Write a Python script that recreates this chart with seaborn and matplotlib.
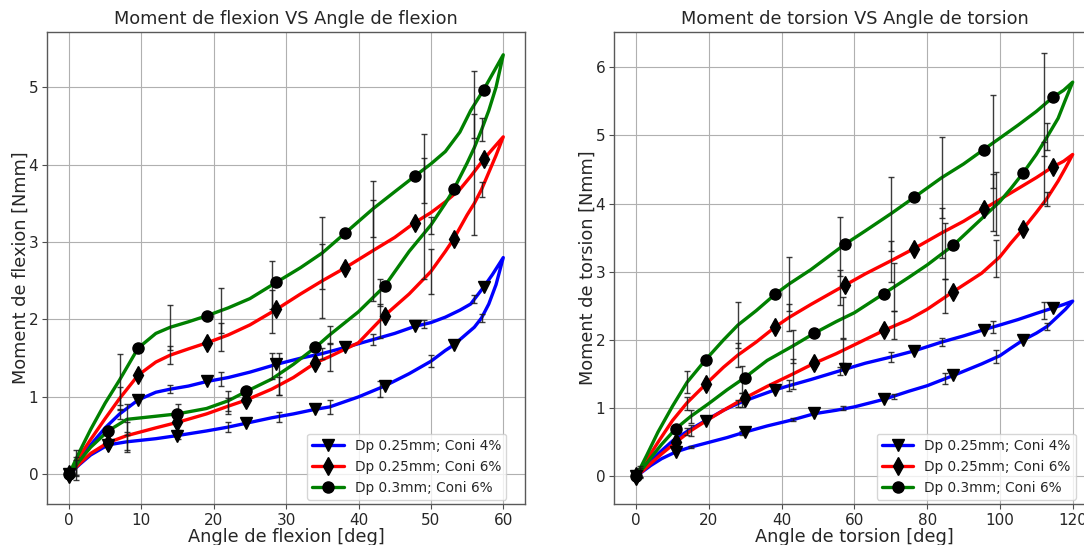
import numpy as np
import matplotlib
matplotlib.use("Agg")
import matplotlib.pyplot as plt
from matplotlib.lines import Line2D
import seaborn as sns

# ---------------- Flexion data ----------------
FX_UP = [0, 1.5, 3, 5, 7, 9.55, 12, 14, 16.5, 19.1, 22, 25, 28.65, 32, 35, 38.2,
         42, 45, 47.75, 50, 52, 54, 55.5, 57.3, 58.5, 60]
FX_BLUE_UP = [0, 0.2, 0.38, 0.6, 0.78, 0.96, 1.06, 1.1, 1.14, 1.2, 1.25, 1.32, 1.42, 1.5, 1.56, 1.64,
              1.74, 1.82, 1.91, 1.96, 2.03, 2.12, 2.2, 2.42, 2.58, 2.8]
FX_RED_UP = [0, 0.24, 0.45, 0.72, 0.98, 1.28, 1.45, 1.54, 1.62, 1.7, 1.8, 1.93, 2.13, 2.33, 2.5, 2.67,
             2.89, 3.06, 3.25, 3.38, 3.52, 3.68, 3.85, 4.07, 4.2, 4.36]
FX_GREEN_UP = [0, 0.3, 0.58, 0.92, 1.22, 1.63, 1.82, 1.9, 1.97, 2.05, 2.15, 2.27, 2.48, 2.67, 2.86, 3.12,
               3.43, 3.65, 3.85, 4.01, 4.17, 4.42, 4.7, 4.97, 5.17, 5.42]

FX_LO = [60, 59, 58, 57, 56, 55, 53.15, 52, 50, 47, 43.6, 40, 36, 34.05, 31, 28, 24.5, 22, 19,
         14.95, 12, 10, 8, 5.4, 3, 1.5, 0]
FX_BLUE_LO = [2.8, 2.45, 2.2, 2.02, 1.9, 1.82, 1.67, 1.6, 1.46, 1.3, 1.14, 1.0, 0.87, 0.84, 0.78, 0.73,
              0.66, 0.61, 0.56, 0.5, 0.46, 0.44, 0.42, 0.38, 0.25, 0.13, 0]
FX_RED_LO = [4.36, 4.12, 3.9, 3.68, 3.5, 3.35, 3.04, 2.88, 2.62, 2.33, 2.05, 1.7, 1.52, 1.44, 1.25, 1.1,
             0.96, 0.88, 0.78, 0.67, 0.6, 0.55, 0.5, 0.41, 0.27, 0.14, 0]
FX_GREEN_LO = [5.42, 5.0, 4.7, 4.45, 4.22, 4.02, 3.68, 3.5, 3.22, 2.88, 2.43, 2.1, 1.8, 1.64, 1.42, 1.23,
               1.07, 0.95, 0.85, 0.78, 0.75, 0.73, 0.71, 0.56, 0.35, 0.18, 0]

FX_MK_UP = [0, 9.55, 19.1, 28.65, 38.2, 47.75, 57.3]
FX_MK_LO = [53.15, 43.6, 34.05, 24.5, 14.95, 5.4]
FX_BLUE_MK = [0, 0.96, 1.2, 1.42, 1.64, 1.91, 2.42, 1.67, 1.14, 0.84, 0.66, 0.5, 0.38]
FX_RED_MK = [0, 1.28, 1.7, 2.13, 2.67, 3.25, 4.07, 3.04, 2.05, 1.44, 0.96, 0.67, 0.41]
FX_GREEN_MK = [0, 1.63, 2.05, 2.48, 3.12, 3.85, 4.97, 3.68, 2.43, 1.64, 1.07, 0.78, 0.56]

FX_EB = [0, 7, 14, 21, 28, 35, 42, 49, 56, 57, 50, 43, 36, 29, 22, 15, 8, 1]
FX_BLUE_EB = [0, 0.78, 1.1, 1.23, 1.4, 1.56, 1.74, 1.94, 2.26, 2.02, 1.46, 1.1, 0.87, 0.74, 0.61, 0.5, 0.42, 0.09]
FX_BLUE_ERR = [0.03, 0.06, 0.05, 0.09, 0.17, 0.07, 0.07, 0.05, 0.05, 0.05, 0.08, 0.1, 0.09, 0.06, 0.06, 0.05, 0.13, 0.1]
FX_RED_EB = [0, 0.98, 1.54, 1.77, 2.1, 2.5, 2.89, 3.3, 3.87, 3.68, 2.62, 1.98, 1.52, 1.14, 0.88, 0.67, 0.5, 0.1]
FX_RED_ERR = [0.05, 0.15, 0.12, 0.18, 0.28, 0.48, 0.65, 0.78, 0.78, 0.1, 0.29, 0.22, 0.18, 0.12, 0.1, 0.1, 0.18, 0.12]
FX_GREEN_EB = [0, 1.22, 1.9, 2.12, 2.45, 2.86, 3.43, 3.95, 4.78, 4.45, 3.22, 2.35, 1.8, 1.3, 0.95, 0.78, 0.71, 0.12]
FX_GREEN_ERR = [0.05, 0.33, 0.29, 0.29, 0.31, 0.46, 0.36, 0.44, 0.43, 0.15, 0.11, 0.17, 0.12, 0.27, 0.13, 0.13, 0.2, 0.2]

# ---------------- Torsion data ----------------
TX_UP = [0, 3, 6, 10, 14, 19.1, 24, 28, 33, 38.2, 42, 48, 57.3, 63, 70, 76.4, 84, 90, 95.5,
         100, 105, 110, 114.6, 117.5, 120]
TX_BLUE_UP = [0, 0.17, 0.33, 0.52, 0.66, 0.82, 0.97, 1.07, 1.17, 1.27, 1.33, 1.42, 1.57, 1.66, 1.75,
              1.84, 1.97, 2.06, 2.15, 2.22, 2.3, 2.39, 2.47, 2.52, 2.57]
TX_RED_UP = [0, 0.25, 0.5, 0.82, 1.08, 1.35, 1.6, 1.78, 1.97, 2.19, 2.33, 2.52, 2.8, 2.97, 3.16,
             3.34, 3.57, 3.74, 3.92, 4.06, 4.22, 4.38, 4.54, 4.62, 4.72]
TX_GREEN_UP = [0, 0.32, 0.65, 1.03, 1.38, 1.71, 2.0, 2.22, 2.43, 2.67, 2.82, 3.03, 3.4, 3.6, 3.85,
               4.09, 4.38, 4.58, 4.79, 4.96, 5.15, 5.35, 5.56, 5.66, 5.78]

TX_LO = [120, 118, 116, 113, 110, 106.4, 103, 100, 95, 87.2, 80, 75, 68.1, 60, 55, 49, 43, 36,
         29.9, 25, 20, 15, 10.9, 7, 4, 2, 0]
TX_BLUE_LO = [2.57, 2.45, 2.35, 2.2, 2.1, 2.0, 1.88, 1.77, 1.65, 1.48, 1.33, 1.25, 1.13, 1.02, 0.97,
              0.92, 0.83, 0.74, 0.65, 0.57, 0.5, 0.43, 0.36, 0.26, 0.16, 0.08, 0]
TX_RED_LO = [4.72, 4.52, 4.33, 4.08, 3.87, 3.63, 3.42, 3.22, 2.98, 2.71, 2.45, 2.3, 2.14, 1.93, 1.8,
             1.66, 1.5, 1.32, 1.15, 1.0, 0.84, 0.67, 0.5, 0.33, 0.19, 0.09, 0]
TX_GREEN_LO = [5.78, 5.52, 5.25, 4.98, 4.72, 4.45, 4.22, 4.03, 3.78, 3.39, 3.1, 2.92, 2.68, 2.4, 2.27,
               2.1, 1.91, 1.7, 1.45, 1.27, 1.07, 0.88, 0.7, 0.47, 0.27, 0.13, 0]

TX_MK_UP = [0, 19.1, 38.2, 57.3, 76.4, 95.5, 114.6]
TX_MK_LO = [106.4, 87.2, 68.1, 49.0, 29.9, 10.9]
TX_BLUE_MK = [0, 0.82, 1.27, 1.57, 1.84, 2.15, 2.47, 2.0, 1.48, 1.13, 0.93, 0.65, 0.36]
TX_RED_MK = [0, 1.35, 2.19, 2.8, 3.34, 3.92, 4.54, 3.63, 2.71, 2.14, 1.66, 1.15, 0.5]
TX_GREEN_MK = [0, 1.71, 2.67, 3.4, 4.09, 4.79, 5.56, 4.45, 3.39, 2.68, 2.1, 1.45, 0.7]

TX_EB = [0, 14, 28, 42, 56, 70, 84, 98, 112, 113, 99, 85, 71, 57, 43, 29, 15, 1]
TX_BLUE_EB = [0, 0.66, 1.07, 1.33, 1.55, 1.75, 1.97, 2.19, 2.43, 2.2, 1.76, 1.44, 1.17, 1.0, 0.83, 0.64, 0.43, 0.04]
TX_BLUE_ERR = [0.04, 0.05, 0.05, 0.08, 0.06, 0.07, 0.06, 0.09, 0.12, 0.05, 0.1, 0.08, 0.04, 0.03, 0.02, 0.03, 0.02, 0.05]
TX_RED_EB = [0, 1.07, 1.78, 2.33, 2.77, 3.15, 3.57, 4.02, 4.45, 4.07, 3.2, 2.65, 2.22, 1.84, 1.5, 1.12, 0.67, 0.05]
TX_RED_ERR = [0.05, 0.1, 0.17, 0.2, 0.26, 0.3, 0.37, 0.42, 0.45, 0.1, 0.27, 0.25, 0.2, 0.18, 0.22, 0.1, 0.08, 0.07]
TX_GREEN_EB = [0, 1.38, 2.22, 2.82, 3.37, 3.85, 4.38, 4.91, 5.45, 4.98, 4.0, 3.3, 2.78, 2.33, 1.91, 1.42, 0.88, 0.07]
TX_GREEN_ERR = [0.05, 0.16, 0.33, 0.4, 0.43, 0.54, 0.59, 0.68, 0.75, 0.2, 0.46, 0.41, 0.35, 0.3, 0.24, 0.2, 0.1, 0.08]

LABELS = ["Dp 0.25mm; Coni 4%", "Dp 0.25mm; Coni 6%", "Dp 0.3mm; Coni 6%"]
COLORS = ["blue", "red", "green"]
MARKERS = ["v", "d", "o"]
MSIZES = [8, 9, 8]

sns.set_style("ticks")
plt.rcParams['font.family'] = ['DejaVu Sans']

fig = plt.figure(figsize=(10.84, 5.45), dpi=100)
ax1 = fig.add_axes([0.0436, 0.0752, 0.4407, 0.8655])
ax2 = fig.add_axes([0.5667, 0.0752, 0.443, 0.8655])


def draw(ax, xu, xl, ups, los, mku, mkl, mks, ebx, ebys, errs):
    for i in range(3):
        xs = list(xu) + list(xl[1:])
        ys = list(ups[i]) + list(los[i][1:])
        sns.lineplot(x=xs, y=ys, sort=False, estimator=None, color=COLORS[i], lw=2.4,
                     ax=ax, zorder=2, solid_joinstyle="round", solid_capstyle="round")
    for i in range(3):
        ax.errorbar(ebx, ebys[i], yerr=errs[i], fmt="none", ecolor="0.1", elinewidth=1.0,
                    capsize=2, capthick=1.0, alpha=0.85, zorder=3)
    for i in range(3):
        ax.plot(list(mku) + list(mkl), mks[i], ls="none", marker=MARKERS[i], ms=MSIZES[i],
                color="black", zorder=4)
    ax.grid(True, color="#b0b0b0", lw=0.8)
    ax.set_axisbelow(True)
    for s in ax.spines.values():
        s.set_color("0.35")
        s.set_linewidth(1.0)
    ax.tick_params(labelsize=11, length=3.5, pad=3, color="0.3")
    handles = [Line2D([0], [0], color=COLORS[i], lw=2.4, marker=MARKERS[i], ms=MSIZES[i],
                      markerfacecolor="black", markeredgecolor="black") for i in range(3)]
    w = ax.get_position().width * fig.get_figwidth() * fig.dpi
    h = ax.get_position().height * fig.get_figheight() * fig.dpi
    ax.legend(handles, LABELS, loc="lower right", fontsize=9.8, framealpha=0.8,
              bbox_to_anchor=(1 - 18.5 / w, 4 / h), borderaxespad=0, handlelength=2.3)


draw(ax1, FX_UP, FX_LO, [FX_BLUE_UP, FX_RED_UP, FX_GREEN_UP],
     [FX_BLUE_LO, FX_RED_LO, FX_GREEN_LO], FX_MK_UP, FX_MK_LO,
     [FX_BLUE_MK, FX_RED_MK, FX_GREEN_MK], FX_EB,
     [FX_BLUE_EB, FX_RED_EB, FX_GREEN_EB], [FX_BLUE_ERR, FX_RED_ERR, FX_GREEN_ERR])
draw(ax2, TX_UP, TX_LO, [TX_BLUE_UP, TX_RED_UP, TX_GREEN_UP],
     [TX_BLUE_LO, TX_RED_LO, TX_GREEN_LO], TX_MK_UP, TX_MK_LO,
     [TX_BLUE_MK, TX_RED_MK, TX_GREEN_MK], TX_EB,
     [TX_BLUE_EB, TX_RED_EB, TX_GREEN_EB], [TX_BLUE_ERR, TX_RED_ERR, TX_GREEN_ERR])

ax1.set_xlim(-3, 63)
ax1.set_ylim(-0.384, 5.71)
ax1.set_xticks([0, 10, 20, 30, 40, 50, 60])
ax1.set_yticks([0, 1, 2, 3, 4, 5])
ax1.set_title("Moment de flexion VS Angle de flexion", fontsize=12.8)
ax1.set_xlabel("Angle de flexion [deg]", fontsize=12.8, labelpad=0)
ax1.set_ylabel("Moment de flexion [Nmm]", fontsize=12.8, labelpad=-1)

ax2.set_xlim(-6, 126)
ax2.set_ylim(-0.404, 6.51)
ax2.set_xticks([0, 20, 40, 60, 80, 100, 120])
ax2.set_yticks([0, 1, 2, 3, 4, 5, 6])
ax2.set_title("Moment de torsion VS Angle de torsion", fontsize=12.8)
ax2.set_xlabel("Angle de torsion [deg]", fontsize=12.8, labelpad=0)
ax2.set_ylabel("Moment de torsion [Nmm]", fontsize=12.8, labelpad=-1)

fig.savefig("out.png", dpi=100)
